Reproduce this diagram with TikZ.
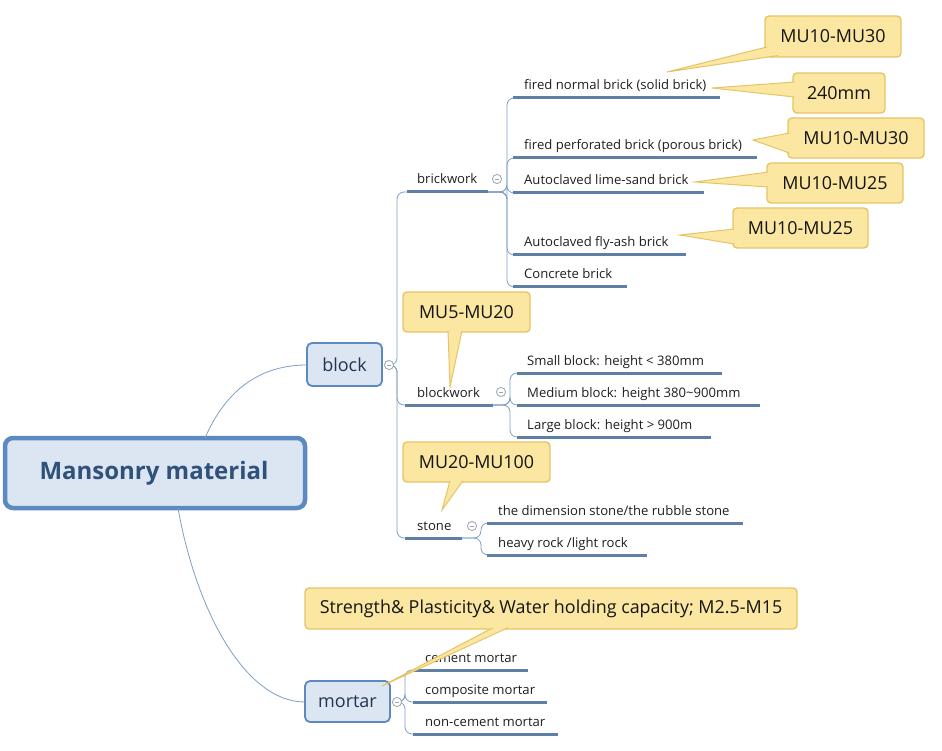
\documentclass[tikz,border=0pt]{standalone}
\usepackage{fontspec}
\setmainfont{Open Sans}
\usetikzlibrary{calc}
\definecolor{boxfill}{HTML}{DCE6F2}
\definecolor{boxline}{HTML}{5B89C0}
\definecolor{titletext}{HTML}{30527A}
\definecolor{subtext}{HTML}{1F3552}
\definecolor{ulcol}{HTML}{5E7FA6}
\definecolor{conncol}{HTML}{7F9FC4}
\definecolor{callfill}{HTML}{FBE7A1}
\definecolor{callline}{HTML}{E6C466}
\definecolor{circcol}{HTML}{9AA6B2}
\tikzset{
  titlebox/.style={draw=boxline, line width=4.5pt, fill=boxfill, rounded corners=8pt},
  subbox/.style={draw=boxline, line width=1.8pt, fill=boxfill, rounded corners=5pt},
  label/.style={anchor=base west, inner sep=0pt, text=black!88, font=\fontsize{13.1}{15}\selectfont},
  ul/.style={draw=ulcol, line width=3pt},
  conn/.style={draw=conncol, line width=0.8pt, rounded corners=7pt},
  callbox/.style={draw=callline, line width=1.4pt, fill=callfill, rounded corners=4pt},
  calltext/.style={inner sep=0pt, text=black!92, font=\fontsize{17.9}{21}\selectfont},
  wedgefill/.style={fill=callfill},
  wedgeline/.style={draw=callline, line width=1pt},
  collapse/.style={circle, draw=circcol, line width=0.7pt, fill=white, minimum size=9pt, inner sep=0pt}
}
\newcommand{\minus}[1]{\draw[circcol, line width=0.7pt] ($(#1)+(-2.2,0)$) -- ($(#1)+(2.2,0)$);}
\begin{document}
\begin{tikzpicture}[x=1pt,y=-1pt]
\useasboundingbox (0,0) rectangle (942,751);
\fill[white] (0,0) rectangle (942,751);

% ---- title and main boxes
\draw[titlebox] (5,438) rectangle (305,508);
\node[text=titletext, font=\fontsize{24}{28}\selectfont\bfseries] (title) at (154,473) {Mansonry material};
\coordinate (titletop) at (205,438);
\coordinate (titlebot) at (178,508);

\draw[subbox] (307,343) rectangle (382,386);
\node[text=subtext, font=\fontsize{18}{21}\selectfont] (block) at (344.5,364.5) {block};
\coordinate (blockL) at (307,365);
\draw[subbox] (305,681) rectangle (390,722);
\node[text=subtext, font=\fontsize{18}{21}\selectfont] (mortar) at (347.5,701.5) {mortar};
\coordinate (mortarL) at (305,702);

\draw[conn] (titletop) .. controls (225,392) and (258,365) .. (blockL);
\draw[conn] (titlebot) .. controls (196,610) and (245,702) .. (mortarL);

% ---- collapse circles
\node[collapse] (cblock) at (389,365) {};
\node[collapse] (cmortar) at (397,702) {};

% ---- level 2 under block
\coordinate (bkA) at (407,192); \coordinate (bkB) at (488,192);
\coordinate (bwA) at (405,405); \coordinate (bwB) at (493,405);
\coordinate (stA) at (405,538); \coordinate (stB) at (462,538);
\node[label] (brickwork) at (417,184) {brickwork};
\node[label] (blockwork) at (417,397) {blockwork};
\node[label] (stone) at (417,530) {stone};
\draw[conn] (cblock.east) -- (397,365) -- (397,192) -- (bkA);
\draw[conn] (cblock.east) -- (397,365) -- (397,405) -- (bwA);
\draw[conn] (cblock.east) -- (397,365) -- (397,538) -- (stA);
\draw[ul] (bkA) -- (bkB);
\draw[ul] (bwA) -- (bwB);
\draw[ul] (stA) -- (stB);
\node[collapse] (cbrick) at (497,179) {};
\node[collapse] (cbw) at (501,392) {};
\node[collapse] (cst) at (472,526) {};

% ---- brickwork children
\coordinate (b1A) at (513,98);  \coordinate (b1B) at (720,98);
\coordinate (b2A) at (513,158); \coordinate (b2B) at (757,158);
\coordinate (b3A) at (513,193); \coordinate (b3B) at (704,193);
\coordinate (b4A) at (513,255); \coordinate (b4B) at (686,255);
\coordinate (b5A) at (513,287); \coordinate (b5B) at (627,287);
\foreach \c in {b1A,b2A,b3A,b4A,b5A}{
  \draw[conn] (bkB) -- (507,192) |- (\c);
}
\draw[ul] (b1A) -- (b1B);
\draw[ul] (b2A) -- (b2B);
\draw[ul] (b3A) -- (b3B);
\draw[ul] (b4A) -- (b4B);
\draw[ul] (b5A) -- (b5B);
\node[label] (b1) at (524,90) {fired normal brick (solid brick)};
\node[label] (b2) at (524,150) {fired perforated brick (porous brick)};
\node[label] (b3) at (524,185) {Autoclaved lime-sand brick};
\node[label] (b4) at (524,247) {Autoclaved fly-ash brick};
\node[label] (b5) at (524,279) {Concrete brick};

% ---- blockwork children
\coordinate (k1A) at (517,373); \coordinate (k1B) at (722,373);
\coordinate (k2A) at (517,405); \coordinate (k2B) at (760,405);
\coordinate (k3A) at (517,437); \coordinate (k3B) at (711,437);
\foreach \c in {k1A,k2A,k3A}{
  \draw[conn] (bwB) -- (510,405) |- (\c);
}
\draw[ul] (k1A) -- (k1B);
\draw[ul] (k2A) -- (k2B);
\draw[ul] (k3A) -- (k3B);
\node[label] (k1) at (527,365) {Small block: height < 380mm};
\node[label] (k2) at (527,397) {Medium block: height 380\textasciitilde 900mm};
\node[label] (k3) at (527,429) {Large block: height > 900m};

% ---- stone children
\coordinate (s1A) at (487,523); \coordinate (s1B) at (743,523);
\coordinate (s2A) at (487,555); \coordinate (s2B) at (647,555);
\foreach \c in {s1A,s2A}{
  \draw[conn] (stB) -- (481,538) |- (\c);
}
\draw[ul] (s1A) -- (s1B);
\draw[ul] (s2A) -- (s2B);
\node[label] (s1) at (498,515) {the dimension stone/the rubble stone};
\node[label] (s2) at (498,547) {heavy rock /light rock};

% ---- mortar children
\coordinate (m1A) at (413,670); \coordinate (m1B) at (528,670);
\coordinate (m2A) at (413,702); \coordinate (m2B) at (547,702);
\coordinate (m3A) at (413,734); \coordinate (m3B) at (558,734);
\foreach \c in {m1A,m2A,m3A}{
  \draw[conn] (cmortar.east) -- (405,702) |- (\c);
}
\draw[ul] (m1A) -- (m1B);
\draw[ul] (m2A) -- (m2B);
\draw[ul] (m3A) -- (m3B);
\node[label] (m1) at (425,662) {cement mortar};
\node[label] (m2) at (425,694) {composite mortar};
\node[label] (m3) at (425,726) {non-cement mortar};

% redraw collapse circles on top
\foreach \c in {cblock,cmortar,cbrick,cbw,cst}{
  \node[collapse] at (\c) {};
  \minus{\c}
}

% ---- callouts
% 1
\draw[callbox] (765,16) rectangle (901,57);
\node[calltext] (c1) at (833,36.5) {MU10-MU30};
\coordinate (c1t) at (667,72);
\fill[wedgefill] (767,47) -- (c1t) -- (778,55.5) -- (772,52) -- cycle;
\draw[wedgeline] (767,47) -- (c1t) -- (778,55.5);
% 2
\draw[callbox] (793,73) rectangle (885,113);
\node[calltext] (c2) at (839,93) {240mm};
\coordinate (c2t) at (712,88);
\fill[wedgefill] (795,82) -- (c2t) -- (795,97) -- cycle;
\draw[wedgeline] (794.3,82) -- (c2t) -- (794.3,97);
% 3
\draw[callbox] (788,118) rectangle (924,158);
\node[calltext] (c3) at (856,138) {MU10-MU30};
\coordinate (c3t) at (753,140);
\fill[wedgefill] (790,133) -- (c3t) -- (790,153) -- cycle;
\draw[wedgeline] (789.3,133) -- (c3t) -- (789.3,153);
% 4
\draw[callbox] (767,163) rectangle (903,203);
\node[calltext] (c4) at (835,183) {MU10-MU25};
\coordinate (c4t) at (695,182);
\fill[wedgefill] (769,172) -- (c4t) -- (769,187) -- cycle;
\draw[wedgeline] (768.3,172) -- (c4t) -- (768.3,187);
% 5
\draw[callbox] (733,208) rectangle (868,248);
\node[calltext] (c5) at (800.5,228) {MU10-MU25};
\coordinate (c5t) at (680,235);
\fill[wedgefill] (735,229) -- (c5t) -- (735,244) -- cycle;
\draw[wedgeline] (734.3,229) -- (c5t) -- (734.3,244);
% 6
\draw[callbox] (403,292) rectangle (530,332);
\node[calltext] (c6) at (466.5,312) {MU5-MU20};
\coordinate (c6t) at (450,387);
\fill[wedgefill] (448,330) -- (c6t) -- (462,330) -- cycle;
\draw[wedgeline] (448,330.7) -- (c6t) -- (462,330.7);
% 7
\draw[callbox] (403,442) rectangle (550,482);
\node[calltext] (c7) at (476.5,462) {MU20-MU100};
\coordinate (c7t) at (442,510);
\fill[wedgefill] (450,480) -- (c7t) -- (463,480) -- cycle;
\draw[wedgeline] (450,480.7) -- (c7t) -- (463,480.7);
% 8
\draw[callbox] (305,588) rectangle (797,629);
\node[calltext] (c8) at (551,608.5) {Strength\& Plasticity\& Water holding capacity; M2.5-M15};
\coordinate (c8t) at (382,686);
\fill[wedgefill] (493,627) -- (c8t) -- (508,627) -- cycle;
\draw[wedgeline] (493,627.7) -- (c8t) -- (508,627.7);
\end{tikzpicture}
\end{document}
